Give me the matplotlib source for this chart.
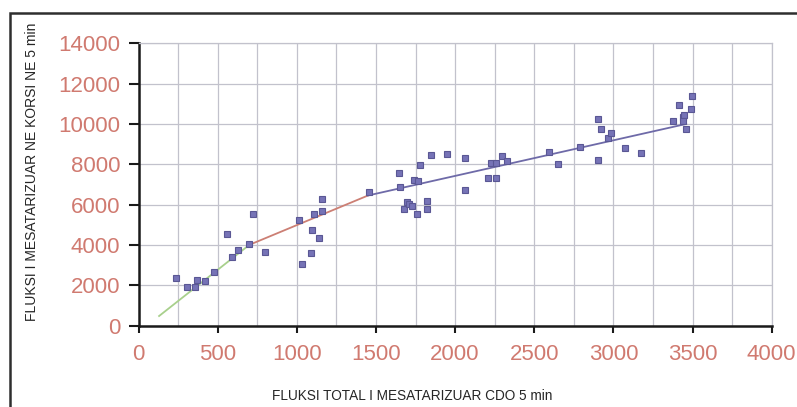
import numpy as np
import matplotlib.pyplot as plt
from matplotlib.patches import Rectangle
from matplotlib.ticker import MultipleLocator

# fluksi total CDO 5 min (x) dhe fluksi ne korsi (y)
flux_total = [237, 308, 359, 368, 422, 475, 557, 593, 626, 700, 725, 797,
              1016, 1033, 1092, 1094, 1107, 1138, 1159, 1157,
              1458, 1646, 1654, 1675, 1696, 1711, 1728, 1742, 1768, 1759,
              1780, 1820, 1820, 1848, 1947, 2061, 2063,
              2206, 2225, 2258, 2258, 2294, 2330,
              2593, 2652, 2789, 2905, 2922, 2905, 2966, 2987,
              3075, 3174, 3375, 3413, 3442, 3446, 3438, 3459, 3488, 3494]
flux_lane = [2371, 1910, 1910, 2257, 2207, 2669, 4524, 3383, 3745, 4028, 5546, 3646,
             5218, 3036, 3611, 4722, 5546, 4325, 5665, 6290,
             6637, 7564, 6885, 5794, 6141, 6042, 5942, 7217, 7183, 5516,
             7976, 6190, 5764, 8457, 8522, 8293, 6721,
             7302, 8045, 8077, 7302, 8423, 8160,
             8590, 7996, 8869, 10243, 9732, 8224, 9285, 9534,
             8819, 8557, 10144, 10923, 10357, 10420, 10160, 9732, 10754, 11369]

# tre segmentet e prirjes
low_x, low_y = [130, 700], [470, 4000]
mid_x, mid_y = [700, 1450], [4000, 6450]
high_x, high_y = [1450, 3460], [6450, 10000]

plt.rcParams['font.family'] = ['Liberation Sans', 'DejaVu Sans']

W, H = 797, 407
fig = plt.figure(figsize=(W / 100, H / 100), dpi=100)
fig.patch.set_facecolor('white')

# outer frame of the figure
fig.patches.append(Rectangle((10 / W, -0.1), 1.1, 1 - 13 / H + 0.1,
                             transform=fig.transFigure, fill=False,
                             edgecolor='#2e2e2e', linewidth=1.8))

ax = fig.add_axes([138.5 / W, 1 - 325.5 / H, (771.7 - 138.5) / W, (325.5 - 43.3) / H])
ax.set_xlim(0, 4000)
ax.set_ylim(0, 14000)

ax.xaxis.set_major_locator(MultipleLocator(500))
ax.xaxis.set_minor_locator(MultipleLocator(250))
ax.yaxis.set_major_locator(MultipleLocator(2000))
ax.grid(True, which='both', axis='x', color='#c2c2cc', linewidth=0.9)
ax.grid(True, which='major', axis='y', color='#c2c2cc', linewidth=0.9)
ax.set_axisbelow(True)

for side in ['top', 'right']:
    ax.spines[side].set_color('#c2c2cc')
    ax.spines[side].set_linewidth(0.9)
for side in ['left', 'bottom']:
    ax.spines[side].set_color('#1a1a1a')
    ax.spines[side].set_linewidth(1.8)

ax.tick_params(axis='x', which='major', direction='out', length=5, width=1.5,
               pad=8, labelsize=16, labelcolor='#d07a70', color='#1a1a1a')
ax.tick_params(axis='y', which='major', direction='out', length=7, width=1.5,
               pad=6, labelsize=16, labelcolor='#d07a70', color='#1a1a1a')
ax.tick_params(which='minor', length=0)

ax.plot(low_x, low_y, color='#a8d08c', linewidth=1.3, zorder=2)
ax.plot(mid_x, mid_y, color='#cc7f74', linewidth=1.3, zorder=2)
ax.plot(high_x, high_y, color='#6e6aa8', linewidth=1.3, zorder=2)

ax.plot(flux_total, flux_lane, linestyle='none', marker='s', markersize=4.6,
        markerfacecolor='#7673b6', markeredgecolor='#5a5794',
        markeredgewidth=0.8, zorder=3, clip_on=False)

fig.text(412 / W, 1 - 396 / H, 'FLUKSI TOTAL I MESATARIZUAR CDO 5 min',
         ha='center', va='center', fontsize=9.8, color='#262626')
fig.text(32 / W, 1 - 172 / H, 'FLUKSI I MESATARIZUAR NE KORSI NE 5 min',
         ha='center', va='center', rotation=90, fontsize=10, color='#262626')

fig.savefig('out.png', dpi=100)
